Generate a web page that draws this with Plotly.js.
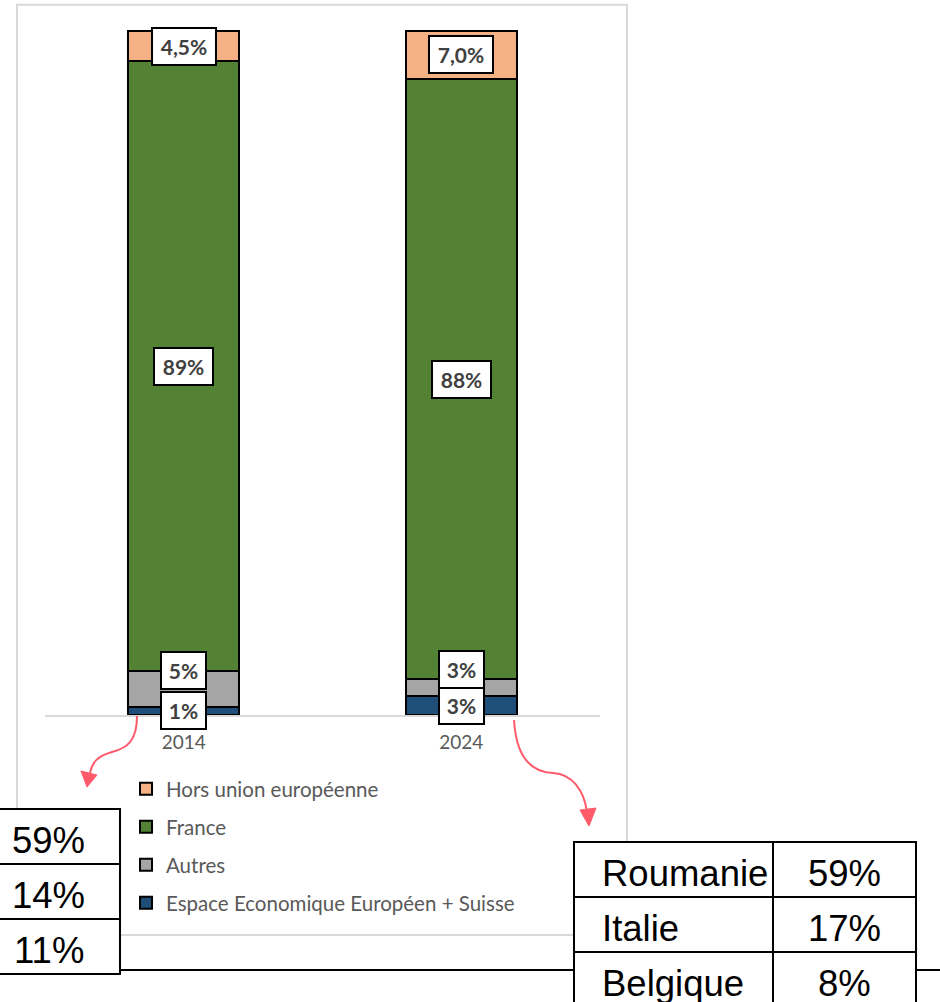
<!DOCTYPE html>
<html>
<head>
<meta charset="utf-8">
<script src="https://cdn.plot.ly/plotly-3.0.1.min.js"></script>
<style>html,body{margin:0;padding:0;background:#fff;}#chart{width:940px;height:1002px;}</style>
</head>
<body>
<div id="chart"></div>
<script>
// ---- data ----
const categories = ['2014', '2024'];
const seriesNames = ['Espace Economique Européen + Suisse', 'Autres', 'France', 'Hors union européenne'];
const eeeValues = [1.2, 2.8];
const autresValues = [5.3, 2.4];
const franceValues = [89.0, 87.8];
const horsUEValues = [4.5, 7.0];
const eeeLabels = ['1%', '3%'];
const autresLabels = ['5%', '3%'];
const franceLabels = ['89%', '88%'];
const horsUELabels = ['4,5%', '7,0%'];
const leftTableValues = ['59%', '14%', '11%'];
const rightTableNames = ['Roumanie', 'Italie', 'Belgique'];
const rightTableValues = ['59%', '17%', '8%'];

// ---- styles ----
const seriesColors = ['#1F4E79', '#A5A5A5', '#548235', '#F4B183'];
const W = 940, H = 1002;
const plotL = 45, plotR = 600, plotB = 715;
const pxPerUnit = 6.84;
const yMax = 102;
const plotH = yMax * pxPerUnit;
const plotT = plotB - plotH;
const px = v => (v - plotL) / (plotR - plotL);
const py = v => (plotB - v) / plotH;

const seriesValues = [eeeValues, autresValues, franceValues, horsUEValues];
const seriesLabels = [eeeLabels, autresLabels, franceLabels, horsUELabels];
const labelShift = [0, 18, 0, 0];

const traces = seriesNames.map((name, i) => ({
  type: 'bar',
  name: name,
  x: categories,
  y: seriesValues[i],
  width: 0.4,
  legendgroup: 'g' + i,
  legendrank: seriesNames.length - i,
  marker: {color: seriesColors[i], line: {color: '#000', width: 2}},
  hoverinfo: 'skip'
}));

const annotations = [];
categories.forEach((cat, ci) => {
  let base = 0;
  seriesValues.forEach((vals, si) => {
    const v = vals[ci];
    const txt = seriesLabels[si][ci];
    annotations.push({
      x: ci, y: base + v / 2, xref: 'x', yref: 'y',
      text: txt, showarrow: false, yshift: labelShift[si],
      xanchor: 'center', yanchor: 'middle',
      bgcolor: '#fff', bordercolor: '#000', borderwidth: 2, borderpad: 4,
      width: txt.length >= 4 ? 54 : (txt.length === 3 ? 49 : 35),
      height: 27,
      font: {family: 'Lato, Open Sans, sans-serif', size: 21, color: '#404040', weight: 'bold'}
    });
    base += v;
  });
});

const shapes = [];
// outer chart frame
shapes.push({type: 'rect', xref: 'paper', yref: 'paper', x0: px(17), x1: px(627), y0: py(5), y1: py(935),
  line: {color: '#D9D9D9', width: 2}, fillcolor: 'rgba(0,0,0,0)', layer: 'below'});
// long black line behind tables
shapes.push({type: 'line', xref: 'paper', yref: 'paper', x0: px(0), x1: px(940), y0: py(970), y1: py(970),
  line: {color: '#000', width: 2}});

const tableFont = {family: 'Liberation Sans, Arial, sans-serif', size: 36.5, color: '#000'};
// left table
const rowH = 55;
const leftTop = 809;
leftTableValues.forEach((v, i) => {
  const y0 = leftTop + i * rowH;
  shapes.push({type: 'rect', xref: 'paper', yref: 'paper', x0: px(-23), x1: px(120), y0: py(y0), y1: py(y0 + rowH),
    line: {color: '#000', width: 2}, fillcolor: '#fff'});
  annotations.push({x: px(48.5), y: py(y0 + rowH / 2 + 4), xref: 'paper', yref: 'paper', text: v, showarrow: false,
    xanchor: 'center', yanchor: 'middle', font: tableFont});
});
// right table
const rightTop = 842;
rightTableNames.forEach((n, i) => {
  const y0 = rightTop + i * rowH;
  shapes.push({type: 'rect', xref: 'paper', yref: 'paper', x0: px(574), x1: px(773), y0: py(y0), y1: py(y0 + rowH),
    line: {color: '#000', width: 2}, fillcolor: '#fff'});
  shapes.push({type: 'rect', xref: 'paper', yref: 'paper', x0: px(773), x1: px(916), y0: py(y0), y1: py(y0 + rowH),
    line: {color: '#000', width: 2}, fillcolor: '#fff'});
  annotations.push({x: px(600), y: py(y0 + rowH / 2 + 4), xref: 'paper', yref: 'paper', text: n, showarrow: false,
    xanchor: 'left', yanchor: 'middle', font: tableFont});
  annotations.push({x: px(844.5), y: py(y0 + rowH / 2 + 4), xref: 'paper', yref: 'paper', text: rightTableValues[i], showarrow: false,
    xanchor: 'center', yanchor: 'middle', font: tableFont});
});

// curved arrows (pixel geometry converted to paper)
function pathFrom(cmds) {
  return cmds.map(c => c[0] + c.slice(1).reduce((acc, p, k) => {
    acc.push((k % 2 === 0 ? px(p) : py(p)).toFixed(5));
    return acc;
  }, []).join(' ')).join(' ');
}
const arrowColor = '#FF5A6A';
shapes.push({type: 'path', xref: 'paper', yref: 'paper',
  path: pathFrom([['M', 514, 720], ['C', 516, 755, 530, 772, 553, 773], ['C', 572, 774, 584, 790, 587, 812]]),
  line: {color: arrowColor, width: 2}, fillcolor: 'rgba(0,0,0,0)'});
shapes.push({type: 'path', xref: 'paper', yref: 'paper',
  path: pathFrom([['M', 580, 810], ['L', 596, 808], ['L', 589, 826], ['Z']]),
  line: {color: arrowColor, width: 1}, fillcolor: arrowColor});
shapes.push({type: 'path', xref: 'paper', yref: 'paper',
  path: pathFrom([['M', 137, 716], ['C', 137, 740, 128, 748, 112, 752], ['C', 98, 756, 92, 762, 90, 773]]),
  line: {color: arrowColor, width: 2}, fillcolor: 'rgba(0,0,0,0)'});
shapes.push({type: 'path', xref: 'paper', yref: 'paper',
  path: pathFrom([['M', 81, 771], ['L', 97, 775], ['L', 87, 787], ['Z']]),
  line: {color: arrowColor, width: 1}, fillcolor: arrowColor});

const layout = {
  width: W, height: H,
  margin: {l: plotL, r: W - plotR, t: plotT, b: H - plotB, pad: 0},
  paper_bgcolor: '#fff', plot_bgcolor: '#fff',
  barmode: 'stack',
  bargap: 0.6,
  showlegend: true,
  legend: {
    orientation: 'v', x: px(126), y: py(769), xanchor: 'left', yanchor: 'top',
    traceorder: 'grouped', tracegroupgap: 8.3,
    font: {family: 'Lato, Open Sans, sans-serif', size: 20.5, color: '#595959'},
    bgcolor: 'rgba(0,0,0,0)'
  },
  xaxis: {
    type: 'category', range: [-0.5, 1.5], showgrid: false, zeroline: false,
    showline: true, linecolor: '#D9D9D9', linewidth: 2, ticks: '', ticklabelstandoff: 9,
    tickfont: {family: 'Lato, Open Sans, sans-serif', size: 19, color: '#595959'},
    fixedrange: true
  },
  yaxis: {range: [0, yMax], visible: false, showgrid: false, zeroline: false, fixedrange: true},
  shapes: shapes,
  annotations: annotations
};

Plotly.newPlot('chart', traces, layout, {displayModeBar: false, staticPlot: true});
</script>
</body>
</html>
